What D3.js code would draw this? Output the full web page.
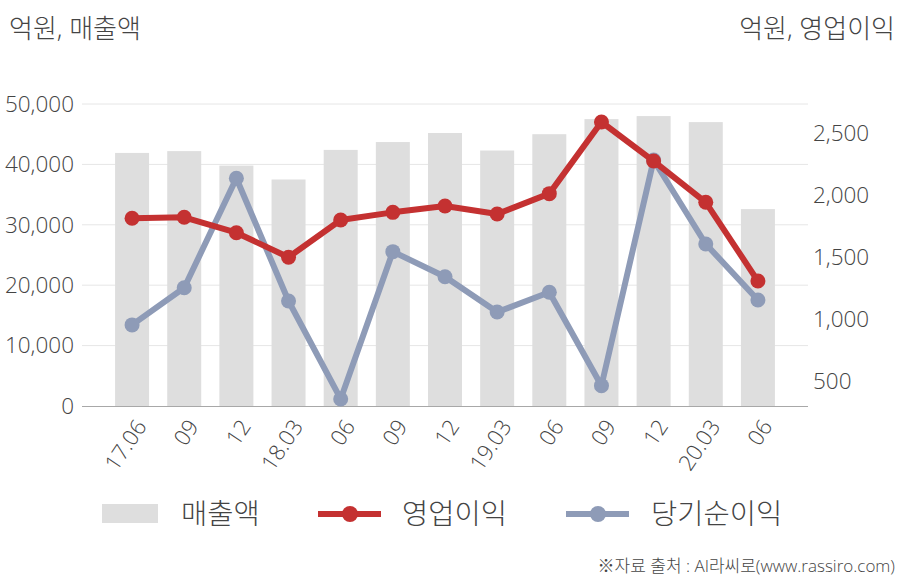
<!DOCTYPE html>
<html>
<head>
<meta charset="utf-8">
<script src="https://cdn.jsdelivr.net/npm/d3@7"></script>
<style>
  body { margin: 0; background: #fff; }
  text { font-family: "Open Sans", "Noto Sans CJK KR", sans-serif; fill: #444; font-weight: 300; }
</style>
</head>
<body>
<svg id="chart"></svg>
<script>
// 분기 라벨
let labels = ["17.06", "09", "12", "18.03", "06", "09", "12", "19.03", "06", "09", "12", "20.03", "06"];
// 매출액 (억원)
let sales = [41900, 42200, 39800, 37500, 42400, 43700, 45200, 42300, 45000, 47500, 48000, 47000, 32600];
// 영업이익 (억원)
let opProfit = [1812, 1820, 1696, 1498, 1798, 1860, 1911, 1847, 2011, 2589, 2274, 1941, 1306];
// 당기순이익 (억원)
let netProfit = [952, 1252, 2135, 1145, 355, 1543, 1341, 1056, 1215, 462, 2282, 1605, 1153];

let leftTicks = [0, 10000, 20000, 30000, 40000, 50000];
let rightTicks = [500, 1000, 1500, 2000, 2500];

let width = 908;
let height = 580;

let svg = d3.select("#chart")
    .attr("width", width)
    .attr("height", height);

let plotL = 82, plotR = 808, plotT = 104, plotB = 406;

let idx = d3.range(labels.length);

let scaleX = d3.scalePoint()
    .domain(idx)
    .range([plotL, plotR])
    .padding(0.96);

let scaleY = d3.scaleLinear()
    .domain([0, 50000])
    .range([plotB, plotT]);

let scaleY2 = d3.scaleLinear()
    .domain([298, 2734])
    .range([plotB, plotT]);

// 그리드
svg.append("g")
    .selectAll("line")
    .data(leftTicks.slice(1))
    .enter()
    .append("line")
    .attr("x1", plotL).attr("x2", plotR)
    .attr("y1", d => scaleY(d)).attr("y2", d => scaleY(d))
    .style("stroke", "#e6e6e6")
    .style("stroke-width", 1);

// 막대
let barW = 34;
svg.append("g")
    .selectAll("rect")
    .data(sales)
    .enter()
    .append("rect")
    .attr("x", (d, i) => scaleX(i) - barW / 2)
    .attr("y", d => scaleY(d))
    .attr("width", barW)
    .attr("height", d => plotB - scaleY(d))
    .style("fill", "#dedede");

// x축 기준선
svg.append("line")
    .attr("x1", plotL).attr("x2", plotR)
    .attr("y1", plotB + 0.5).attr("y2", plotB + 0.5)
    .style("stroke", "#a8a8a8");

// 왼쪽 축
let axisL = d3.axisLeft(scaleY).tickValues(leftTicks).tickSize(0).tickPadding(8)
    .tickFormat(d3.format(","));
let gL = svg.append("g").attr("transform", `translate(${plotL}, 0)`).call(axisL);
gL.select(".domain").remove();
gL.attr("font-family", null);
gL.selectAll("text").style("font-size", "22.5px").style("fill", "#444");

// 오른쪽 축
let axisR = d3.axisRight(scaleY2).tickValues(rightTicks).tickSize(0).tickPadding(5)
    .tickFormat(d3.format(","));
let gR = svg.append("g").attr("transform", `translate(${plotR}, 0)`).call(axisR);
gR.select(".domain").remove();
gR.attr("font-family", null);
gR.selectAll("text").style("font-size", "22.5px").style("fill", "#444");

// x축 라벨
svg.append("g")
    .selectAll("text")
    .data(labels)
    .enter()
    .append("text")
    .attr("transform", (d, i) => `translate(${scaleX(i) + 9}, ${plotB + 16}) rotate(-56)`)
    .attr("text-anchor", "end")
    .attr("dy", "0.35em")
    .style("font-size", "22px")
    .text(d => d);

// 선 그리기
function drawLine(values, color) {
    let line = d3.line()
        .x((d, i) => scaleX(i))
        .y(d => scaleY2(d));
    svg.append("path")
        .datum(values)
        .attr("d", line)
        .style("fill", "none")
        .style("stroke", color)
        .style("stroke-width", 6)
        .style("stroke-linejoin", "round");
    svg.append("g")
        .selectAll("circle")
        .data(values)
        .enter()
        .append("circle")
        .attr("cx", (d, i) => scaleX(i))
        .attr("cy", d => scaleY2(d))
        .attr("r", 7.5)
        .style("fill", color);
}
drawLine(netProfit, "#8e9bb7");
drawLine(opProfit, "#c43131");

// 단위 제목
svg.append("text").attr("x", 9).attr("y", 38)
    .style("font-size", "26px").text("억원, 매출액");
svg.append("text").attr("x", 895).attr("y", 38).attr("text-anchor", "end")
    .style("font-size", "26px").text("억원, 영업이익");

// 범례
let legY = 514;
svg.append("rect").attr("x", 102).attr("y", 504).attr("width", 56).attr("height", 19)
    .style("fill", "#dedede");
svg.append("text").attr("x", 181).attr("y", legY).attr("dy", "0.35em")
    .style("font-size", "28.5px").text("매출액");

let legItems = [
    {name: "영업이익", color: "#c43131", x: 318, tx: 402},
    {name: "당기순이익", color: "#8e9bb7", x: 566, tx: 651}
];
legItems.forEach(function(it) {
    svg.append("line")
        .attr("x1", it.x).attr("x2", it.x + 63)
        .attr("y1", legY).attr("y2", legY)
        .style("stroke", it.color).style("stroke-width", 6);
    svg.append("circle").attr("cx", it.x + 32).attr("cy", legY).attr("r", 8)
        .style("fill", it.color);
    svg.append("text").attr("x", it.tx).attr("y", legY).attr("dy", "0.35em")
        .style("font-size", "28.5px").text(it.name);
});

// 출처
svg.append("text").attr("x", 895).attr("y", 572).attr("text-anchor", "end")
    .style("font-size", "17px").text("※자료 출처 : AI라씨로(www.rassiro.com)");
</script>
</body>
</html>
